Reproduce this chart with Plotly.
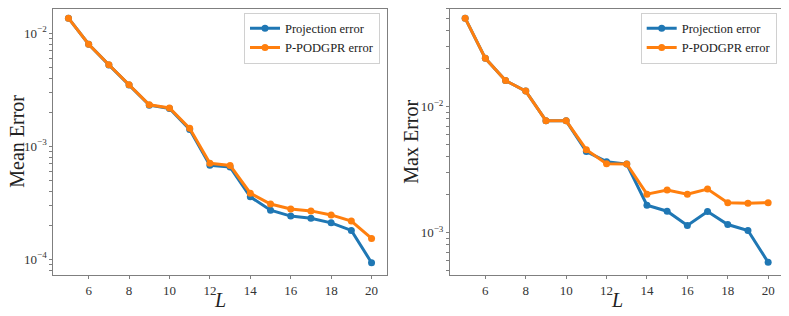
import plotly.graph_objects as go

L = [5, 6, 7, 8, 9, 10, 11, 12, 13, 14, 15, 16, 17, 18, 19, 20]

mean_proj = [0.0136, 0.0080, 0.00525, 0.00349, 0.00231, 0.00216, 0.00141, 0.000679, 0.000655,
             0.000357, 0.000272, 0.000241, 0.000231, 0.000210, 0.000180, 0.0000933]
mean_podgpr = [0.0136, 0.0080, 0.00527, 0.00351, 0.00233, 0.00218, 0.00144, 0.000708, 0.000677,
               0.000384, 0.000308, 0.000279, 0.000268, 0.000247, 0.000218, 0.000153]

max_proj = [0.0504, 0.0242, 0.0161, 0.0133, 0.00774, 0.00772, 0.00440, 0.00366, 0.00350,
            0.00165, 0.00148, 0.00114, 0.00147, 0.00116, 0.00104, 0.000582]
max_podgpr = [0.0504, 0.0242, 0.0161, 0.0133, 0.00774, 0.00772, 0.00456, 0.00353, 0.00351,
              0.00202, 0.00218, 0.00202, 0.00222, 0.00173, 0.00171, 0.00173]

names = ["Projection error", "P-PODGPR error"]
colors = ["#1f77b4", "#ff7f0e"]
y_titles = ["Mean Error", "Max Error"]
x_title = "<i>L</i>"
x_ticks = [6, 8, 10, 12, 14, 16, 18, 20]
decades = [-5, -4, -3, -2, -1]
font_family = "Liberation Serif, DejaVu Serif, serif"

# page has an 8px body margin: figure is sized to fit the remaining window
OFF = 8
W, H = 789 - OFF, 316 - OFF


def px(v):  # window x pixel -> paper fraction
    return (v - OFF) / W


def py(v):  # window y pixel (from top) -> paper fraction
    return (316 - v) / H


fig = go.Figure()

panels = [
    (mean_proj, mean_podgpr, "x", "y", "legend"),
    (max_proj, max_podgpr, "x2", "y2", "legend2"),
]
for proj, pod, xa, ya, lg in panels:
    for vals, name, col in zip([proj, pod], names, colors):
        fig.add_trace(go.Scatter(
            x=L, y=vals, mode="lines+markers", name=name,
            line=dict(color=col, width=3),
            marker=dict(color=col, size=7),
            xaxis=xa, yaxis=ya, legend=lg,
        ))

# log-axis ticks: labelled decades plus unlabelled minor ticks
y_tickvals, y_ticktext = [], []
for e in decades:
    for m in range(1, 10):
        y_tickvals.append(m * 10.0 ** e)
        y_ticktext.append(f"10<sup>\u2212{-e}</sup>" if m == 1 else "")

frame = "#7f7f7f"
axis_common = dict(
    showline=True, linecolor=frame, linewidth=1, mirror=True,
    showgrid=False, zeroline=False, ticks="outside", ticklen=3,
    tickcolor=frame, tickfont=dict(family=font_family, size=13, color="#333333"),
)

ydom = [py(275), py(8.5)]
x1 = [px(53.3), px(386.7)]
x2 = [px(450), px(783.3)]

legend_common = dict(xanchor="right", yanchor="top", y=py(12.7),
                     bgcolor="rgba(255,255,255,0.8)", bordercolor="#d0d0d0", borderwidth=1,
                     font=dict(family=font_family, size=12.5, color="#222222"),
                     tracegroupgap=0, itemwidth=30)

fig.update_layout(
    width=W, height=H, autosize=False,
    margin=dict(l=0, r=0, t=0, b=0),
    paper_bgcolor="white", plot_bgcolor="white",
    font=dict(family=font_family, color="#222222"),
    xaxis=dict(domain=x1, range=[4.25, 20.75], anchor="y", tickvals=x_ticks, **axis_common),
    yaxis=dict(domain=ydom, type="log", range=[-4.139, -1.781], anchor="x",
               tickmode="array", tickvals=y_tickvals, ticktext=y_ticktext, **axis_common),
    xaxis2=dict(domain=x2, range=[4.25, 20.75], anchor="y2", tickvals=x_ticks, **axis_common),
    yaxis2=dict(domain=ydom, type="log", range=[-3.336, -1.221], anchor="x2",
                tickmode="array", tickvals=y_tickvals, ticktext=y_ticktext, **axis_common),
    legend=dict(x=px(380), **legend_common),
    legend2=dict(x=px(776.7), **legend_common),
    showlegend=True,
)

annots = []
for dom, ytxt, ytx in [(x1, y_titles[0], 17), (x2, y_titles[1], 411)]:
    annots.append(dict(text=x_title, x=(dom[0] + dom[1]) / 2, y=py(300),
                       xref="paper", yref="paper", showarrow=False,
                       xanchor="center", yanchor="middle",
                       font=dict(family=font_family, size=20, color="#222222")))
    annots.append(dict(text=ytxt, x=px(ytx), y=(ydom[0] + ydom[1]) / 2,
                       xref="paper", yref="paper", showarrow=False, textangle=-90,
                       xanchor="center", yanchor="middle",
                       font=dict(family=font_family, size=20, color="#222222")))
fig.update_layout(annotations=annots)

fig.write_html("out.html")
